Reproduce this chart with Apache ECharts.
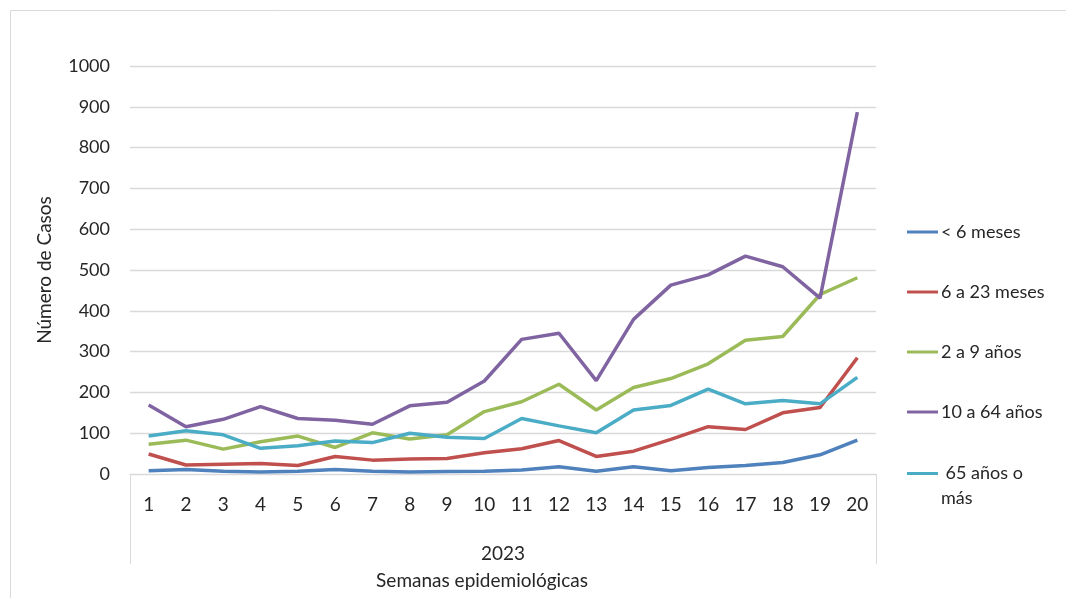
<!DOCTYPE html>
<html>
<head>
<meta charset="utf-8">
<script src="https://cdn.jsdelivr.net/npm/echarts@6/dist/echarts.min.js"></script>
<style>
html,body{margin:0;padding:0;background:#fff;}
#chart{width:1066px;height:598px;}
</style>
</head>
<body>
<div id="chart"></div>
<script>
const weeks = ['1','2','3','4','5','6','7','8','9','10','11','12','13','14','15','16','17','18','19','20'];
const yearLabels = ['2023'];
const seriesNames = ['< 6 meses','6 a 23 meses','2 a 9 años','10 a 64 años',' 65 años o más'];
const menos6meses = [8,11,7,5,7,11,7,5,6,7,10,18,7,18,8,16,21,28,47,83];
const de6a23meses = [49,22,24,26,21,43,34,37,38,52,62,82,43,56,85,116,109,150,163,285];
const de2a9anos = [73,83,61,79,93,65,101,86,96,153,177,220,157,212,234,270,328,337,440,481];
const de10a64anos = [169,116,134,165,136,132,122,167,176,228,330,345,229,379,463,488,534,508,431,887];
const de65anosMas = [93,106,96,63,69,81,77,100,90,87,136,118,101,157,168,208,172,180,172,237];
const colors = ['#4f81bd','#c0504d','#9bbb59','#8064a2','#4bacc6'];
const values = [menos6meses, de6a23meses, de2a9anos, de10a64anos, de65anosMas];

const FONT = 'Lato';
const TXT = '#262626';
const GRID = '#d9d9d9';
const ICON = 'path://M0,5.5 L31,5.5 L31,8.5 L0,8.5 Z';

const chart = echarts.init(document.getElementById('chart'), null, {renderer:'canvas'});
const option = {
  animation: false,
  backgroundColor: '#ffffff',
  color: colors,
  textStyle: {fontFamily: FONT},
  graphic: [{
    type: 'rect', silent: true, z: -1,
    shape: {x: 10.5, y: 10.5, width: 1100, height: 620},
    style: {fill: 'none', stroke: GRID, lineWidth: 1}
  }],
  title: {
    text: 'Semanas epidemiológicas',
    left: 477, top: 566, textAlign: 'center',
    textStyle: {fontFamily: FONT, fontSize: 19, fontWeight: 'normal', color: TXT}
  },
  legend: [{
    orient: 'vertical', left: 907, top: 222, padding: 0,
    itemWidth: 31, itemHeight: 14, itemGap: 40,
    icon: ICON,
    data: seriesNames.slice(0,4),
    textStyle: {fontFamily: FONT, fontSize: 18, color: TXT, lineHeight: 20, padding: [0,0,0,-2]}
  },{
    orient: 'vertical', left: 907, top: 436, padding: 0,
    itemWidth: 31, itemHeight: 14,
    icon: ICON,
    data: seriesNames.slice(4),
    formatter: function(n){ return '\n 65 años o\nmás'; },
    textStyle: {fontFamily: FONT, fontSize: 18, color: TXT, lineHeight: 25, padding: [0,0,0,-2]}
  }],
  grid: {left: 130, right: 190, top: 66, bottom: 124, containLabel: false},
  xAxis: [{
    type: 'category', data: weeks, boundaryGap: true, position: 'bottom',
    axisLine: {show: true, lineStyle: {color: GRID, width: 1}},
    axisTick: {show: false},
    axisLabel: {margin: 21, fontFamily: FONT, fontSize: 19, color: TXT, interval: 0}
  },{
    type: 'category', data: yearLabels, boundaryGap: true, position: 'bottom',
    axisLine: {show: false},
    axisTick: {show: true, length: 90, lineStyle: {color: GRID, width: 1}},
    axisLabel: {margin: 70, fontFamily: FONT, fontSize: 19, color: TXT}
  }],
  yAxis: {
    type: 'value', min: 0, max: 1000, interval: 100,
    name: 'Número de Casos', nameLocation: 'middle', nameGap: 76, nameRotate: 90,
    nameTextStyle: {fontFamily: FONT, fontSize: 19, color: TXT},
    axisLine: {show: false}, axisTick: {show: false},
    axisLabel: {margin: 20, fontFamily: FONT, fontSize: 18, color: TXT, formatter: function(v){ return String(v); }},
    splitLine: {show: true, lineStyle: {color: GRID, width: 1.3}}
  },
  series: seriesNames.map((n, i) => ({
    name: n, type: 'line', xAxisIndex: 0, data: values[i],
    showSymbol: false, symbol: 'none', smooth: false,
    lineStyle: {width: 3.5, color: colors[i]}, itemStyle: {color: colors[i]}
  }))
};
chart.setOption(option);
</script>
</body>
</html>
